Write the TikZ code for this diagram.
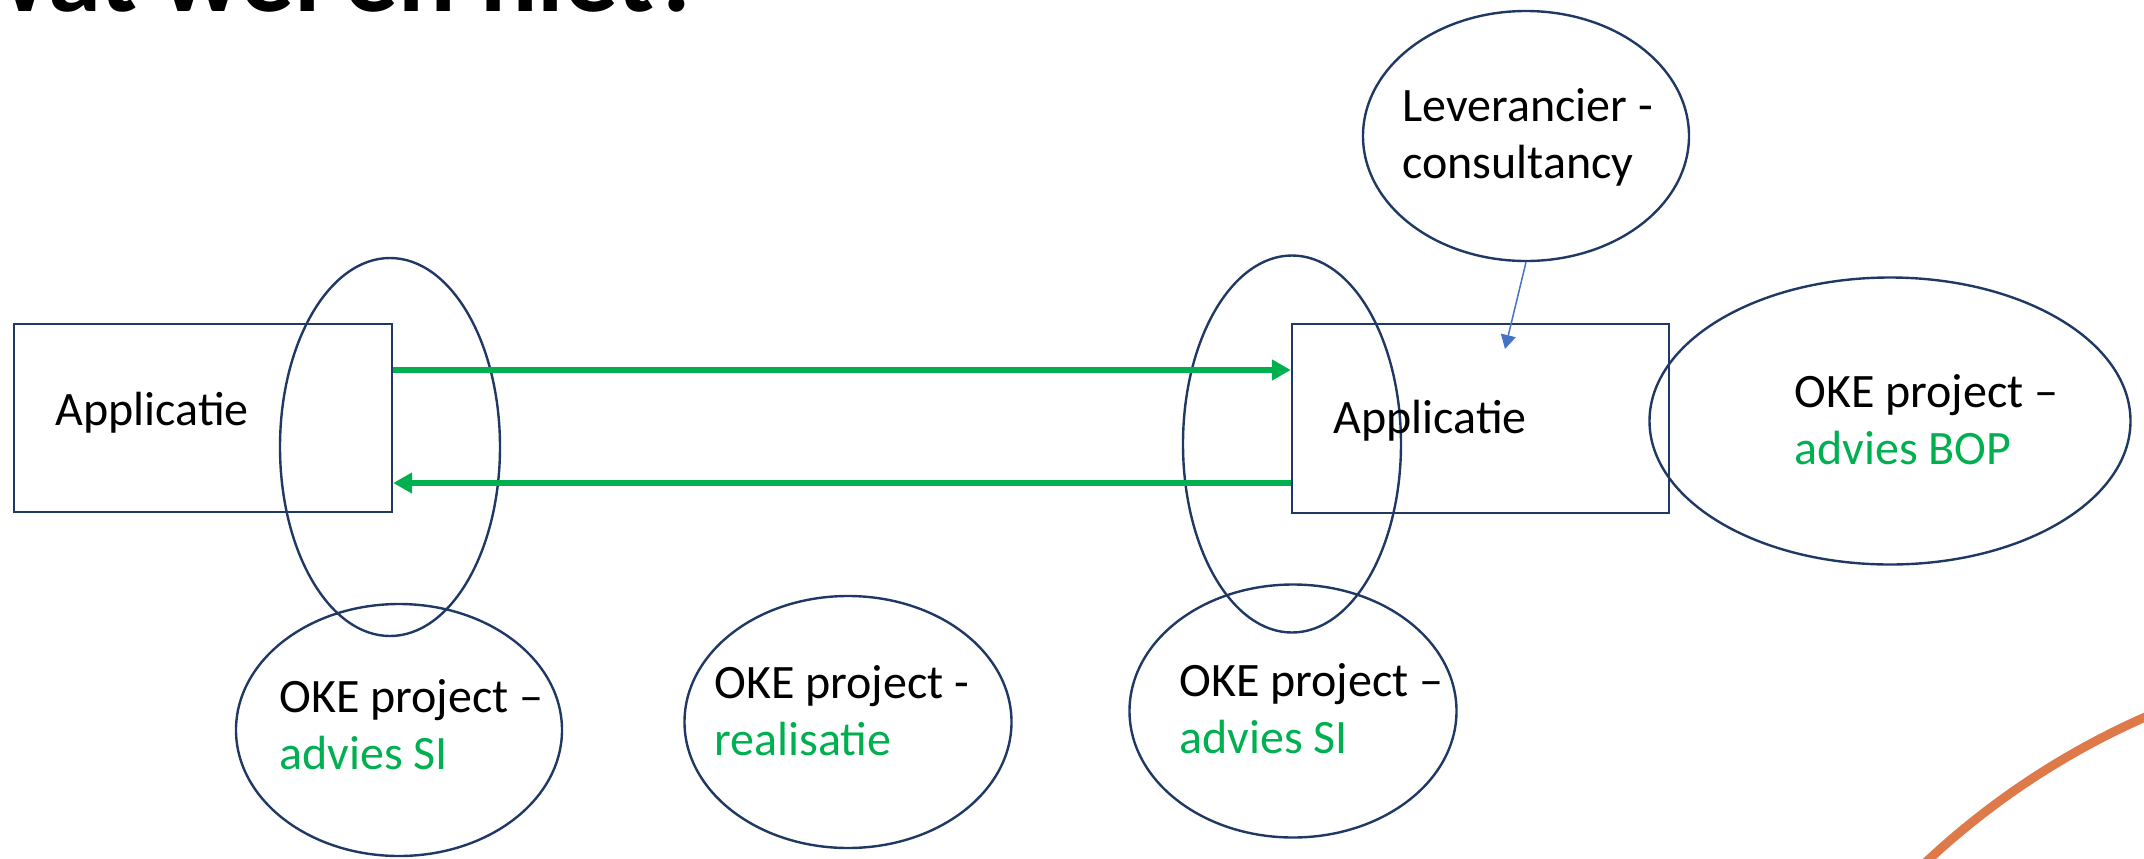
\documentclass[tikz,border=0pt]{standalone}
\usepackage{fontspec}
\setmainfont{Carlito}
\usetikzlibrary{shapes.geometric,arrows.meta}
\definecolor{navy}{RGB}{31,56,100}
\definecolor{okgreen}{RGB}{0,176,80}
\definecolor{lblue}{RGB}{68,114,196}
\definecolor{arcorange}{RGB}{222,122,74}
\begin{document}
\begin{tikzpicture}[x=0.5pt,y=-0.5pt,
  ell/.style={draw=navy,line width=1.2pt,ellipse,inner sep=0pt},
  appbox/.style={draw=navy,line width=1.2pt,rectangle,inner sep=0pt},
  lbl/.style={anchor=base west,inner sep=0pt,align=left,font=\fontsize{24}{28.5}\selectfont},
  garrow/.style={draw=okgreen,line width=3pt,-{Triangle[length=9.5pt,width=10pt]}},
  barrow/.style={draw=lblue,line width=0.75pt,-{Triangle[length=7pt,width=7.5pt]}}]
\useasboundingbox (0,0) rectangle (2144,858);
\clip (0,0) rectangle (2144,858);
% title (cut off at the top)
\node[anchor=base west,inner sep=0pt,font=\fontsize{53.5}{60}\selectfont\bfseries] (title) at (-45,11) {Wat wel en niet?};
% decorative orange arc
\draw[arcorange,line width=4.5pt] (2460,1432) circle [radius=781];
% application boxes
\node[appbox,minimum width=189pt,minimum height=94pt] (app1) at (203,418) {};
\node[appbox,minimum width=188.5pt,minimum height=94.5pt] (app2) at (1480.5,418.5) {};
% ellipses
\node[ell,minimum width=110pt,minimum height=189pt] (e1) at (390,447) {};
\node[ell,minimum width=109pt,minimum height=188.5pt] (e2) at (1292,444) {};
\node[ell,minimum width=163pt,minimum height=126pt] (e3) at (399,730) {};
\node[ell,minimum width=163.5pt,minimum height=126pt] (e4) at (848,722) {};
\node[ell,minimum width=163.5pt,minimum height=126.5pt] (e5) at (1293,711) {};
\node[ell,minimum width=163pt,minimum height=125pt] (lev) at (1526,136) {};
\node[ell,minimum width=240.5pt,minimum height=143.5pt] (e7) at (1890,421) {};
% texts (base anchor = baseline of the last line)
\node[lbl] (t1) at (55,425) {Applicatie};
\node[lbl] (t2) at (1333,433) {Applicatie};
\node[lbl] (t3) at (1402,178) {Leverancier -\\consultancy};
\node[lbl] (t4) at (279,769) {OKE project –\\\textcolor{okgreen}{advies SI}};
\node[lbl] (t5) at (714,755) {OKE project -\\\textcolor{okgreen}{realisatie}};
\node[lbl] (t6) at (1179,753) {OKE project –\\\textcolor{okgreen}{advies SI}};
\node[lbl] (t7) at (1794,464) {OKE project –\\\textcolor{okgreen}{advies BOP}};
% connectors
\coordinate (ya) at (0,370);
\coordinate (yb) at (0,483);
\coordinate (tip) at (1505,349);
\draw[garrow] (app1.east |- ya) -- (app2.west |- ya);
\draw[garrow] (app2.west |- yb) -- (app1.east |- yb);
\draw[barrow] (lev.south) -- (tip);
\end{tikzpicture}
\end{document}
